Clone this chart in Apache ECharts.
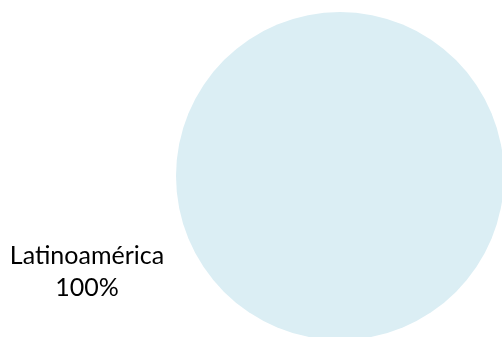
<!DOCTYPE html>
<html>
<head>
<meta charset="utf-8">
<script src="https://cdn.jsdelivr.net/npm/echarts@6/dist/echarts.min.js"></script>
<style>
html,body{margin:0;padding:0;background:#fff;}
#c{width:502px;height:337px;}
</style>
</head>
<body>
<div id="c"></div>
<script>
const categories = ['Latinoamérica'];
const values = [100];
const percentLabels = ['100%'];

const chart = echarts.init(document.getElementById('c'), null, {renderer: 'canvas'});
chart.setOption({
  animation: false,
  backgroundColor: '#ffffff',
  series: [{
    type: 'pie',
    center: [340, 176],
    radius: [0, 164],
    startAngle: 90,
    clockwise: true,
    silent: true,
    data: categories.map((c, i) => ({name: c, value: values[i]})),
    itemStyle: {color: '#DBEEF4', borderWidth: 0},
    label: {
      show: true,
      position: 'outside',
      formatter: (p) => p.name + '\n' + percentLabels[p.dataIndex],
      fontFamily: 'Lato, "Open Sans", sans-serif',
      fontSize: 25,
      lineHeight: 32,
      color: '#000000',
      align: 'center'
    },
    labelLine: {show: false},
    labelLayout: {x: 87, y: 272, align: 'center', verticalAlign: 'middle'}
  }]
});
</script>
</body>
</html>
